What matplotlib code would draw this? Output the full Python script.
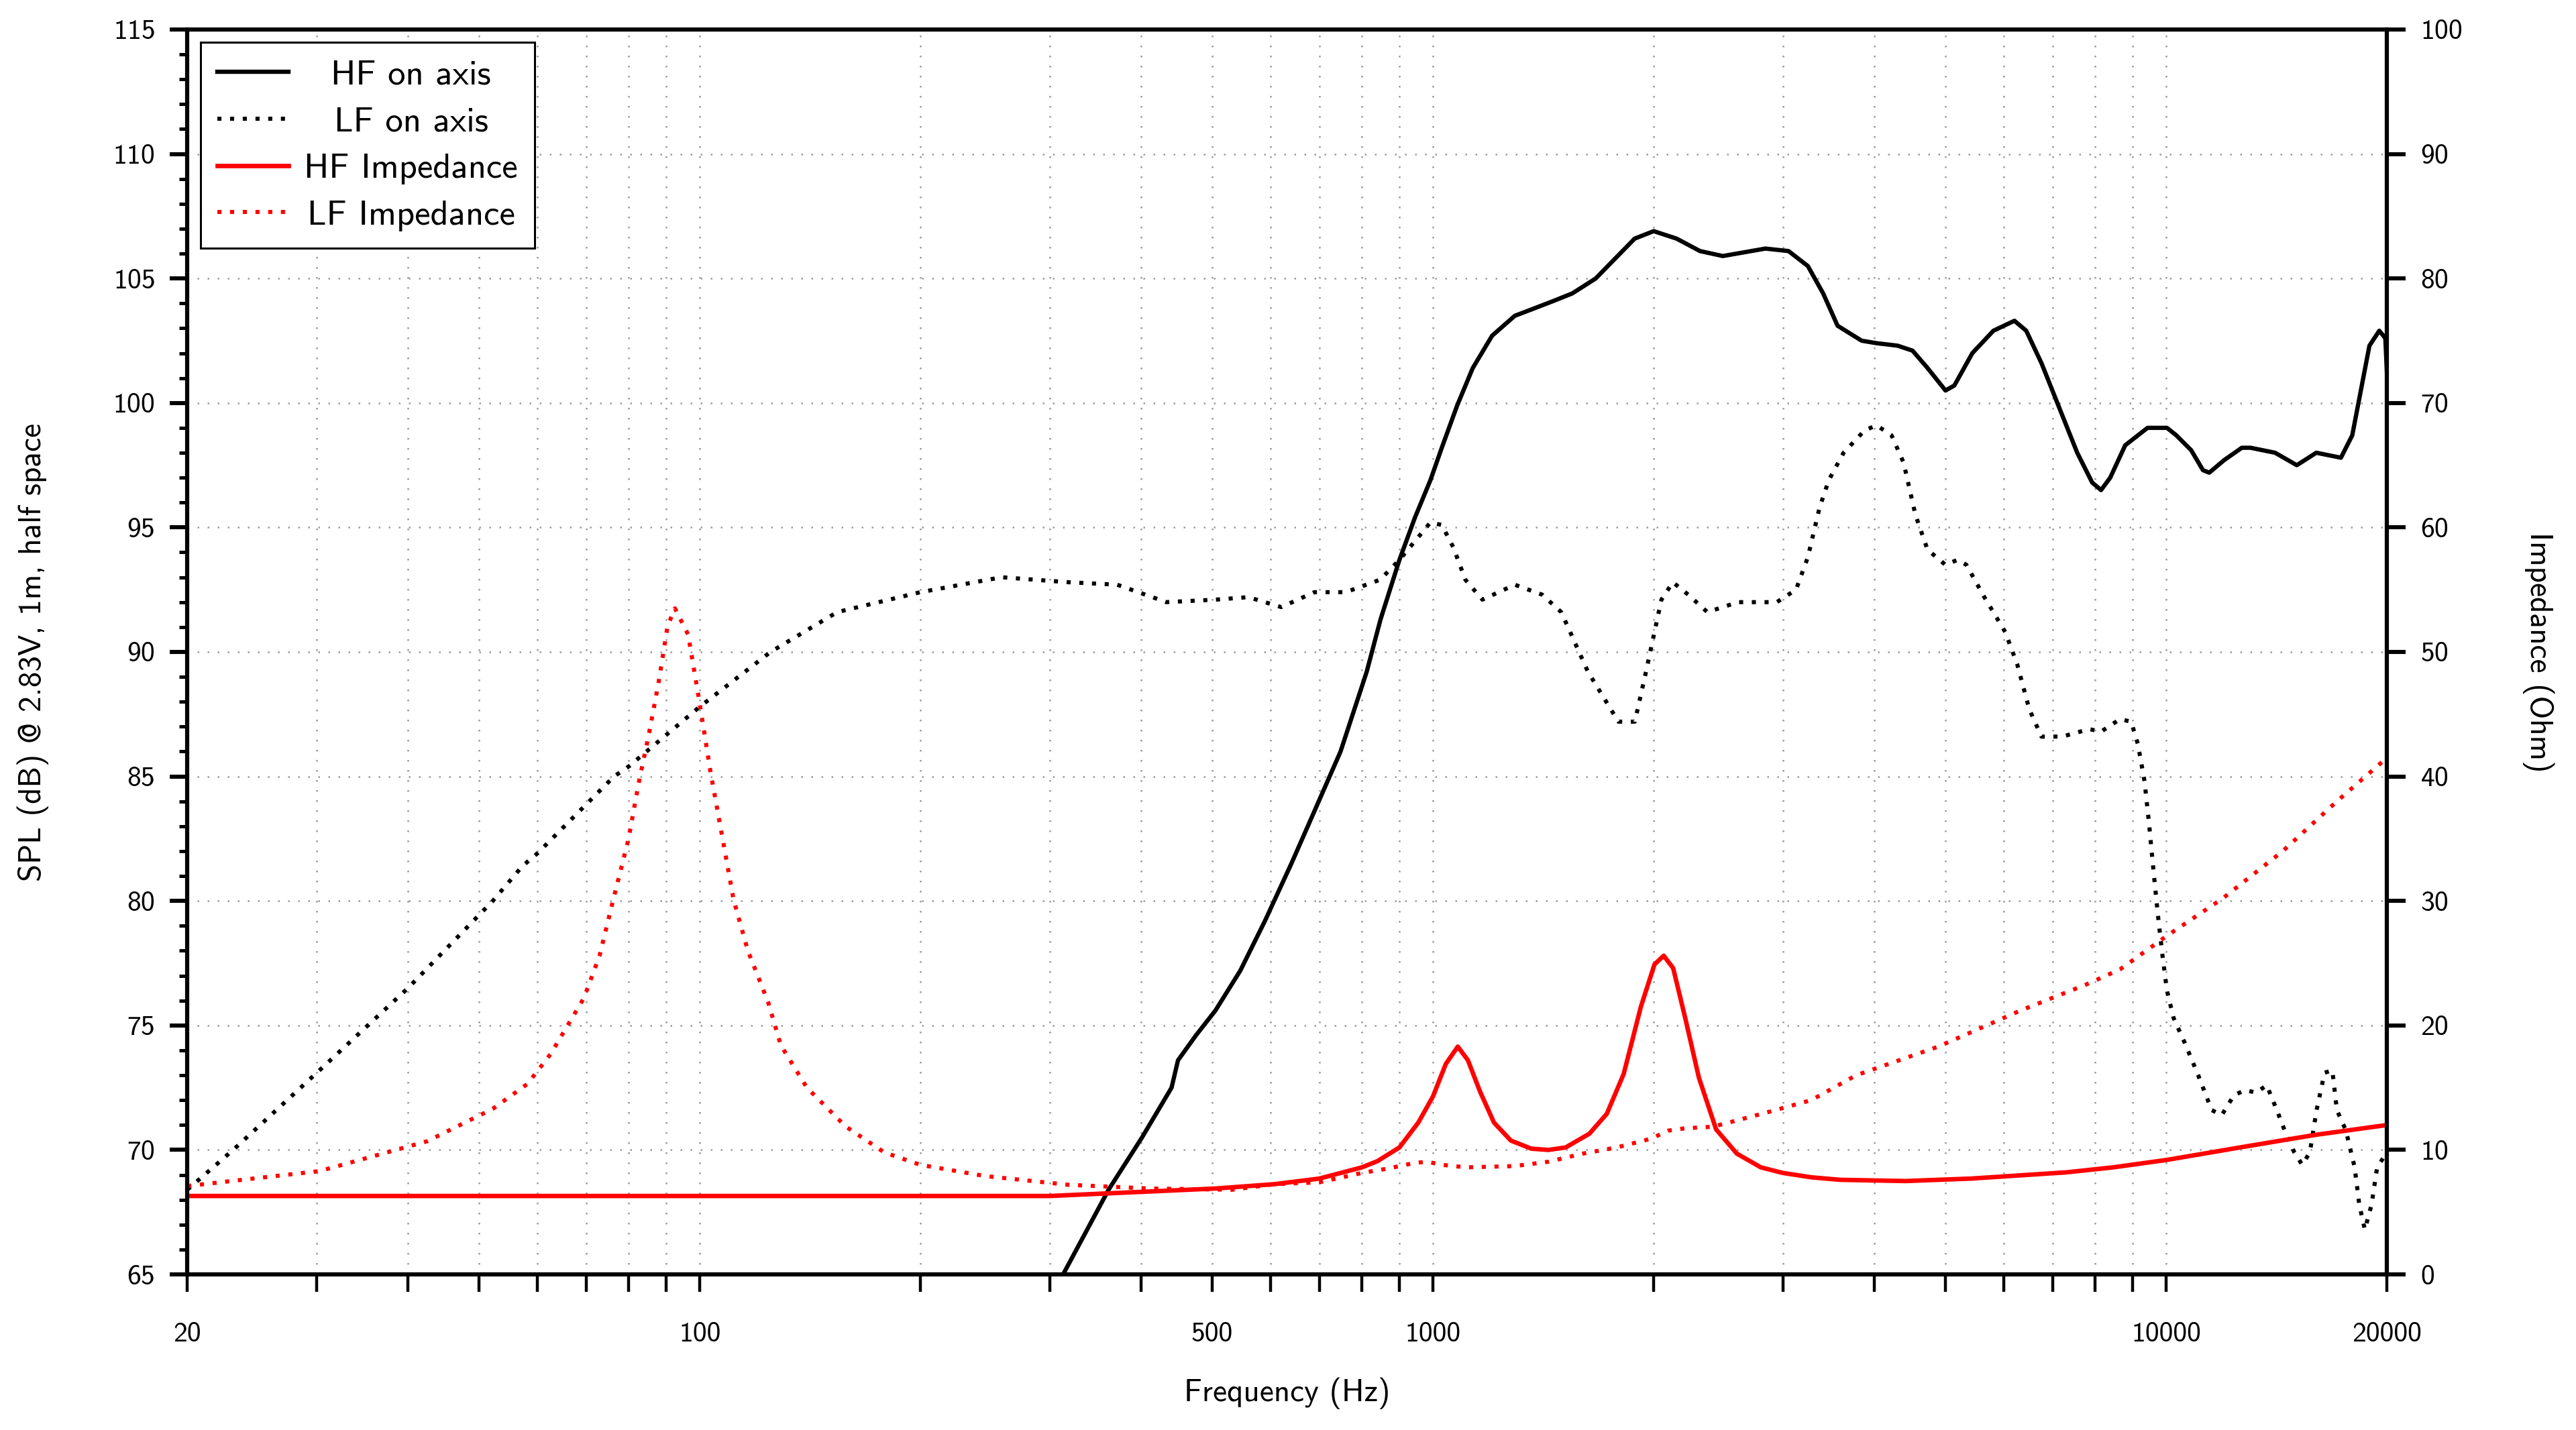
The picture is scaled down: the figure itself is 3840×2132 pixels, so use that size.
import matplotlib
matplotlib.use("Agg")
import matplotlib.pyplot as plt
from matplotlib.ticker import FixedLocator, FixedFormatter, MultipleLocator

plt.rcParams["font.family"] = ["cmss10", "DejaVu Sans"]
plt.rcParams["axes.unicode_minus"] = False
plt.rcParams["axes.formatter.use_mathtext"] = True

# ---------------- data ----------------
hf_freq = [313, 361, 401, 440, 449, 475, 505, 546, 590, 641, 689, 748, 812, 848,
           900, 945, 992, 1028, 1079, 1133, 1204, 1293, 1375, 1461, 1549, 1667,
           1772, 1884, 2000, 2149, 2313, 2485, 2840, 3054, 3245, 3405, 3563, 3843,
           4027, 4302, 4509, 4727, 5000, 5141, 5440, 5812, 6209, 6443, 6759, 7216,
           7562, 7927, 8150, 8388, 8792, 9431, 10023, 10323, 10817, 11224, 11448,
           11991, 12680, 13032, 14077, 15070, 16022, 17310, 17937, 18931, 19527,
           19900, 20000]
hf_spl = [65.0, 68.4, 70.5, 72.5, 73.6, 74.6, 75.6, 77.2, 79.2, 81.5, 83.6, 86.0,
          89.2, 91.3, 93.7, 95.4, 96.9, 98.2, 99.9, 101.4, 102.7, 103.5, 103.8,
          104.1, 104.4, 105.0, 105.8, 106.6, 106.9, 106.6, 106.1, 105.9, 106.2,
          106.1, 105.5, 104.4, 103.1, 102.5, 102.4, 102.3, 102.1, 101.4, 100.5,
          100.7, 102.0, 102.9, 103.3, 102.9, 101.6, 99.5, 98.0, 96.8, 96.5, 97.0,
          98.3, 99.0, 99.0, 98.7, 98.1, 97.3, 97.2, 97.7, 98.2, 98.2, 98.0, 97.5,
          98.0, 97.8, 98.7, 102.3, 102.9, 102.6, 101.2]

lf_freq = [20, 23.1, 30.3, 40, 52.2, 57.3, 60, 76.4, 80, 100, 124.9, 154, 200, 258,
           318, 371, 433, 505, 560, 621, 689, 760, 847, 900, 992, 1028, 1066, 1107,
           1168, 1293, 1409, 1496, 1627, 1790, 1885, 1952, 2049, 2124, 2229, 2367,
           2607, 2944, 3127, 3245, 3367, 3466, 3631, 3879, 4027, 4221, 4384, 4550,
           4727, 5000, 5195, 5339, 5649, 6032, 6264, 6505, 6759, 7216, 7852, 8150,
           8649, 8957, 9149, 9343, 9476, 9610, 9746, 9884, 10024, 10234, 10600,
           11057, 11535, 11905, 12375, 12815, 13273, 13710, 14155, 14542, 14955,
           15329, 15700, 16036, 16445, 16850, 17090, 17575, 18073, 18337, 18661,
           19058, 19393, 20000]
lf_spl = [68.4, 70.0, 73.2, 76.5, 80.0, 81.4, 81.9, 85.0, 85.4, 87.8, 90.0, 91.6,
          92.4, 93.0, 92.8, 92.7, 92.0, 92.1, 92.2, 91.8, 92.4, 92.4, 92.9, 93.7,
          95.2, 95.1, 94.2, 92.9, 92.1, 92.7, 92.3, 91.6, 89.2, 87.2, 87.2, 89.2,
          92.1, 92.8, 92.3, 91.6, 92.0, 92.0, 92.5, 93.8, 95.8, 96.9, 98.0, 98.9,
          99.1, 98.7, 97.6, 95.5, 94.1, 93.5, 93.7, 93.5, 92.2, 90.8, 89.5, 87.7,
          86.6, 86.6, 86.9, 86.8, 87.3, 87.2, 86.3, 84.8, 83.1, 81.2, 79.4, 77.8,
          76.4, 75.3, 74.3, 73.0, 71.6, 71.4, 72.2, 72.4, 72.3, 72.6, 71.6, 70.7,
          69.9, 69.4, 69.9, 71.6, 73.1, 73.2, 71.6, 70.8, 69.3, 67.8, 66.8, 67.8,
          69.3, 69.9]

hfz_freq = [20, 100, 300, 505, 608, 700, 800, 840, 900, 955, 1000, 1041, 1081, 1116,
            1159, 1211, 1277, 1362, 1437, 1517, 1634, 1726, 1820, 1921, 2005, 2064,
            2126, 2208, 2305, 2433, 2597, 2800, 3000, 3281, 3589, 4412, 5422, 7311,
            8467, 10024, 12906, 15935, 20000]
hfz_ohm = [6.3, 6.3, 6.3, 6.9, 7.25, 7.7, 8.6, 9.1, 10.2, 12.2, 14.3, 16.9, 18.3,
           17.2, 14.7, 12.2, 10.75, 10.1, 10.0, 10.2, 11.3, 12.9, 16.1, 21.5, 24.9,
           25.6, 24.6, 20.6, 15.8, 11.65, 9.7, 8.6, 8.15, 7.8, 7.6, 7.5, 7.7, 8.2,
           8.6, 9.2, 10.3, 11.2, 12.0]

lfz_freq = [20, 30.3, 42.5, 52.2, 58.2, 62.6, 69.5, 73.0, 76.2, 79.9, 82.5, 85.3,
            87.9, 90.4, 92.5, 96.4, 99.7, 103.4, 107.2, 111.2, 116.3, 123.9, 129,
            140, 158, 178.5, 200, 245, 318, 411, 532, 608, 700, 800, 867, 945, 982,
            1030, 1110, 1291, 1437, 1600, 1781, 1983, 2094, 2208, 2407, 2597, 2891,
            3281, 3778, 4890, 6330, 7787, 8649, 10024, 11940, 14420, 17090, 20000]
lfz_ohm = [7.1, 8.3, 10.7, 13.3, 15.3, 17.7, 22.2, 25.6, 30.1, 34.9, 39.4, 43.5,
           47.6, 52.1, 53.5, 51.4, 46.3, 40.4, 35.3, 30.1, 26.0, 21.9, 18.4, 15.0,
           11.9, 9.8, 8.8, 7.9, 7.2, 6.9, 6.8, 7.25, 7.4, 8.15, 8.5, 8.96, 9.05,
           8.8, 8.6, 8.7, 9.05, 9.7, 10.2, 10.9, 11.55, 11.74, 11.86, 12.37, 13.1,
           14.0, 16.0, 18.3, 21.2, 23.3, 24.5, 27.2, 30.2, 34.0, 38.0, 41.5]

x_ticks = [20, 30, 40, 50, 60, 70, 80, 90,
           100, 200, 300, 400, 500, 600, 700, 800, 900,
           1000, 2000, 3000, 4000, 5000, 6000, 7000, 8000, 9000,
           10000, 20000]
x_labelled = [20, 100, 500, 1000, 10000, 20000]

# ---------------- figure ----------------
fig = plt.figure(figsize=(19.2, 10.66), dpi=200)
ax = fig.add_axes([0.0727, 0.1088, 0.8539, 0.8706])
ax2 = ax.twinx()

dots = (0, (1, 2.1))
l1, = ax.plot(hf_freq, hf_spl, color="black", lw=2.3, label="HF on axis")
l2, = ax.plot(lf_freq, lf_spl, color="black", lw=2.2, ls=dots, label="LF on axis")
l3, = ax2.plot(hfz_freq, hfz_ohm, color="#ff0000", lw=2.4, label="HF Impedance")
l4, = ax2.plot(lfz_freq, lfz_ohm, color="#ff0000", lw=2.2, ls=dots, label="LF Impedance")

ax.set_xscale("log")
ax.set_xlim(20, 20000)
ax.set_ylim(65, 115)
ax2.set_ylim(0, 100)

ax.xaxis.set_major_locator(FixedLocator(x_ticks))
ax.xaxis.set_major_formatter(FixedFormatter(
    [str(t) if t in x_labelled else "" for t in x_ticks]))
ax.xaxis.set_minor_locator(FixedLocator([]))
ax.yaxis.set_major_locator(MultipleLocator(5))
ax.yaxis.set_minor_locator(MultipleLocator(1))
ax2.yaxis.set_major_locator(MultipleLocator(10))

ax.grid(True, which="major", color="#9a9a9a", ls=(0, (1, 5)), lw=0.9)

for a in (ax, ax2):
    for sp in a.spines.values():
        sp.set_linewidth(2.2)

ax.tick_params(axis="x", which="major", direction="out", length=9.4, width=1.6,
               labelsize=15, pad=16)
ax.tick_params(axis="y", which="major", direction="out", length=9.4, width=2.2,
               labelsize=15, pad=8)
ax.tick_params(axis="y", which="minor", direction="out", length=4.3, width=1.8)
ax2.tick_params(axis="y", which="major", direction="out", length=10, width=2.2,
                labelsize=15, pad=8)

ax.set_xlabel("Frequency (Hz)", fontsize=17)
ax.xaxis.label.set_va("center")
ax.xaxis.set_label_coords(0.5, -0.0954)
ax.set_ylabel("SPL (dB) @ 2.83V, 1m, half space", fontsize=17)
ax.yaxis.label.set_va("center")
ax.yaxis.set_label_coords(-0.0701, 0.5)
ax2.set_ylabel("Impedance (Ohm)", fontsize=17, rotation=270)
ax2.yaxis.label.set_va("center")
ax2.yaxis.set_label_coords(1.0689, 0.5)

leg = ax2.legend(handles=[l1, l2, l3, l4], loc="upper left", fontsize=19,
                 frameon=True, fancybox=False, framealpha=1, edgecolor="black",
                 borderaxespad=0.37, handlelength=2.0, handletextpad=0.45,
                 labelspacing=0.43, borderpad=0.48)
leg.get_frame().set_linewidth(1.1)

# centre the legend labels in their column, like the original
fig.canvas.draw()
renderer = fig.canvas.get_renderer()
widths = [t.get_window_extent(renderer).width for t in leg.get_texts()]
wmax = max(widths)
for t, w in zip(leg.get_texts(), widths):
    t.set_x((wmax - w) / 2)

fig.savefig("out.png", dpi=200)
